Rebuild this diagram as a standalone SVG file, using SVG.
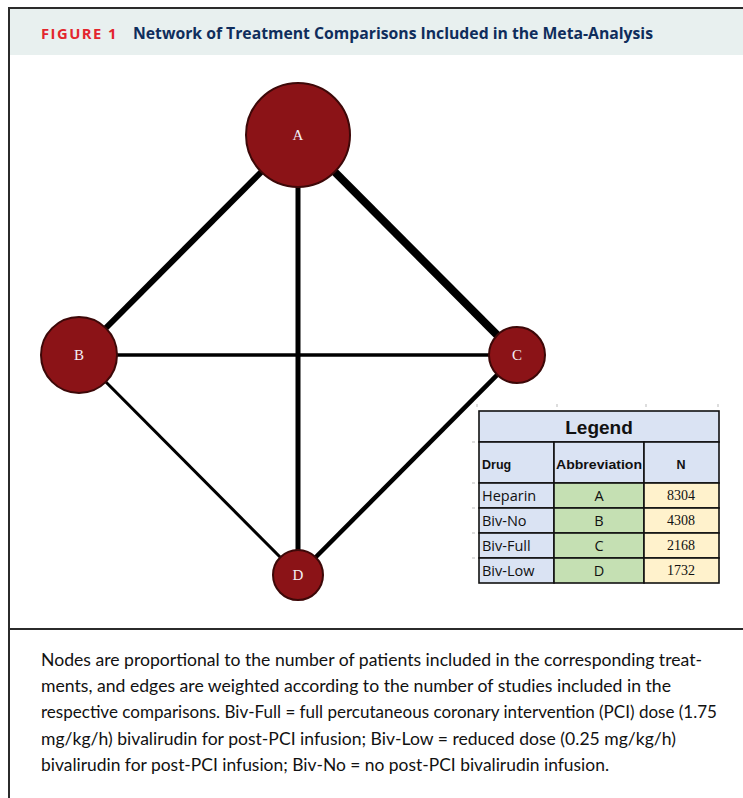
<svg xmlns="http://www.w3.org/2000/svg" width="743" height="798" viewBox="0 0 743 798">
<style>
.frame{stroke:#2b2b2b;stroke-width:2;fill:none}
.edge{stroke:#000;fill:none;stroke-linecap:butt}
.node{fill:#8b1317;stroke:#3d0808;stroke-width:2}
.nlabel{font-family:"Liberation Serif",serif;font-size:15px;fill:#f4f0f8;text-anchor:middle}
.cell{stroke:#111;stroke-width:1.6}
.hd{font-family:"Liberation Sans",Arial,sans-serif;font-weight:bold;fill:#111}
.td{font-family:"Open Sans","Liberation Sans",sans-serif;font-size:14.5px;fill:#111}
.num{font-family:"Liberation Serif",serif;font-size:14px;fill:#111;text-anchor:middle}
.cap{font-family:Lato,"Open Sans",sans-serif;font-size:16.5px;fill:#111}
.tick{stroke:#bbb;stroke-width:1}
</style>
<rect width="743" height="798" fill="#fff"/>
<g id="header">
<rect x="9" y="9" width="734" height="46" fill="#e8f0ef"/>
<text x="41" y="38.5" font-family="'Open Sans','Liberation Sans',sans-serif" font-weight="bold" font-size="15" fill="#e3262d" textLength="77" lengthAdjust="spacingAndGlyphs" letter-spacing="1.5">FIGURE 1</text>
<text x="133" y="38.5" font-family="'Open Sans','Liberation Sans',sans-serif" font-weight="bold" font-size="16" fill="#0f2d5c" textLength="520" lengthAdjust="spacingAndGlyphs">Network of Treatment Comparisons Included in the Meta-Analysis</text>
</g>
<g id="frame">
<line class="frame" x1="8" y1="8" x2="743" y2="8"/>
<line class="frame" x1="9" y1="8" x2="9" y2="798"/>
<line class="frame" x1="9" y1="629" x2="743" y2="629"/>
</g>
<g id="connectors">
<line class="edge" x1="298" y1="135" x2="79" y2="355" stroke-width="6"/>
<line class="edge" x1="298" y1="135" x2="517" y2="355" stroke-width="8"/>
<line class="edge" x1="298" y1="135" x2="298" y2="575" stroke-width="5"/>
<line class="edge" x1="79" y1="355" x2="517" y2="355" stroke-width="3.5"/>
<line class="edge" x1="79" y1="355" x2="298" y2="575" stroke-width="3"/>
<line class="edge" x1="517" y1="355" x2="298" y2="575" stroke-width="4.5"/>
</g>
<g id="node-A">
<circle class="node" cx="298" cy="135" r="52"/>
<text class="nlabel" x="298" y="140">A</text>
</g>
<g id="node-B">
<circle class="node" cx="79" cy="355" r="38"/>
<text class="nlabel" x="79" y="360">B</text>
</g>
<g id="node-C">
<circle class="node" cx="517" cy="355" r="28"/>
<text class="nlabel" x="517" y="360">C</text>
</g>
<g id="node-D">
<circle class="node" cx="298" cy="575" r="25"/>
<text class="nlabel" x="298" y="580">D</text>
</g>
<g id="legend">
<line class="tick" x1="477" y1="404" x2="477" y2="407"/>
<line class="tick" x1="557" y1="404" x2="557" y2="407"/>
<line class="tick" x1="646" y1="404" x2="646" y2="407"/>
<line class="tick" x1="718" y1="404" x2="718" y2="407"/>
<line class="tick" x1="472" y1="442" x2="475" y2="442"/>
<line class="tick" x1="472" y1="483" x2="475" y2="483"/>
<line class="tick" x1="472" y1="508" x2="475" y2="508"/>
<line class="tick" x1="472" y1="533" x2="475" y2="533"/>
<line class="tick" x1="472" y1="558" x2="475" y2="558"/>
<rect class="cell" x="479" y="411" width="240" height="31" fill="#dae3f3"/>
<rect class="cell" x="479" y="442" width="75" height="41" fill="#dae3f3"/>
<rect class="cell" x="554" y="442" width="90" height="41" fill="#dae3f3"/>
<rect class="cell" x="644" y="442" width="75" height="41" fill="#dae3f3"/>
<rect class="cell" x="479" y="483" width="75" height="25" fill="#dae3f3"/>
<rect class="cell" x="554" y="483" width="90" height="25" fill="#c5e0b3"/>
<rect class="cell" x="644" y="483" width="75" height="25" fill="#fff2cc"/>
<rect class="cell" x="479" y="508" width="75" height="25" fill="#dae3f3"/>
<rect class="cell" x="554" y="508" width="90" height="25" fill="#c5e0b3"/>
<rect class="cell" x="644" y="508" width="75" height="25" fill="#fff2cc"/>
<rect class="cell" x="479" y="533" width="75" height="25" fill="#dae3f3"/>
<rect class="cell" x="554" y="533" width="90" height="25" fill="#c5e0b3"/>
<rect class="cell" x="644" y="533" width="75" height="25" fill="#fff2cc"/>
<rect class="cell" x="479" y="558" width="75" height="25" fill="#dae3f3"/>
<rect class="cell" x="554" y="558" width="90" height="25" fill="#c5e0b3"/>
<rect class="cell" x="644" y="558" width="75" height="25" fill="#fff2cc"/>
<text class="hd" x="599" y="434" font-size="19" text-anchor="middle">Legend</text>
<text class="hd" x="482" y="469" font-size="12.5">Drug</text>
<text class="hd" x="599" y="469" font-size="12.5" text-anchor="middle" textLength="86" lengthAdjust="spacingAndGlyphs">Abbreviation</text>
<text class="hd" x="681" y="469" font-size="12.5" text-anchor="middle">N</text>
<text class="td" x="482" y="501">Heparin</text>
<text class="td" x="482" y="526">Biv-No</text>
<text class="td" x="482" y="551">Biv-Full</text>
<text class="td" x="482" y="576">Biv-Low</text>
<text class="td" x="599" y="501" text-anchor="middle">A</text>
<text class="td" x="599" y="526" text-anchor="middle">B</text>
<text class="td" x="599" y="551" text-anchor="middle">C</text>
<text class="td" x="599" y="576" text-anchor="middle">D</text>
<text class="num" x="681" y="500">8304</text>
<text class="num" x="681" y="525">4308</text>
<text class="num" x="681" y="550">2168</text>
<text class="num" x="681" y="575">1732</text>
</g>
<g id="caption">
<text class="cap" x="41" y="666" textLength="661" lengthAdjust="spacingAndGlyphs">Nodes are proportional to the number of patients included in the corresponding treat-</text>
<text class="cap" x="41" y="692" textLength="630" lengthAdjust="spacingAndGlyphs">ments, and edges are weighted according to the number of studies included in the</text>
<text class="cap" x="41" y="718" textLength="676" lengthAdjust="spacingAndGlyphs">respective comparisons. Biv-Full = full percutaneous coronary intervention (PCI) dose (1.75</text>
<text class="cap" x="41" y="745" textLength="635" lengthAdjust="spacingAndGlyphs">mg/kg/h) bivalirudin for post-PCI infusion; Biv-Low = reduced dose (0.25 mg/kg/h)</text>
<text class="cap" x="41" y="771" textLength="568" lengthAdjust="spacingAndGlyphs">bivalirudin for post-PCI infusion; Biv-No = no post-PCI bivalirudin infusion.</text>
</g>
</svg>
